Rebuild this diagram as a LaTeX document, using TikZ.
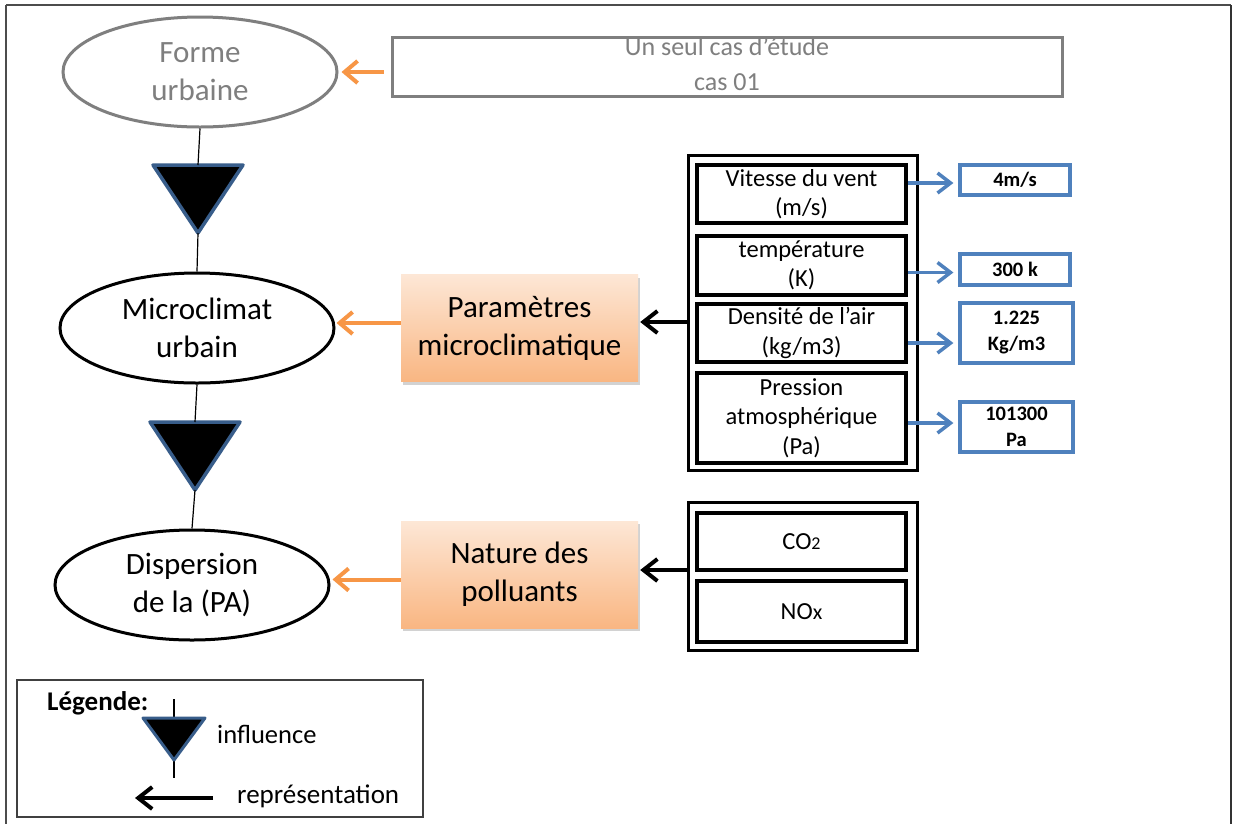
\documentclass[tikz,border=0pt]{standalone}
\usepackage{fontspec}
\setmainfont{Carlito}
\usetikzlibrary{shapes.geometric,arrows.meta,shadows,calc}

\definecolor{offorange}{HTML}{F79646}
\definecolor{offblue}{HTML}{4F81BD}
\definecolor{tridark}{HTML}{385D8A}
\definecolor{softgray}{HTML}{7F7F7F}
\definecolor{peachtop}{HTML}{FDE7D6}
\definecolor{peachbot}{HTML}{F9B682}

\tikzset{
  bigtxt/.style={font=\fontsize{31}{38}\selectfont, align=center},
  midtxt/.style={font=\fontsize{24.5}{29.5}\selectfont, align=center},
  valtxt/.style={font=\bfseries\fontsize{20.5}{26}\selectfont, align=center},
  oval/.style={ellipse, draw=black, line width=3pt, minimum width=274pt,
    minimum height=110pt, inner sep=0pt, bigtxt},
  peachbox/.style={rectangle, top color=peachtop, bottom color=peachbot,
    draw=none, minimum width=237pt, minimum height=107pt, inner sep=0pt, bigtxt,
    drop shadow={shadow xshift=2pt, shadow yshift=-3pt, opacity=0.35, fill=gray}},
  itembox/.style={rectangle, draw=black, line width=4pt, minimum width=209pt,
    inner sep=0pt, midtxt},
  groupbox/.style={rectangle, draw=black, line width=3pt, inner sep=0pt},
  valbox/.style={rectangle, draw=offblue, line width=3.2pt, inner sep=0pt, valtxt},
  orangearrow/.style={draw=offorange, line width=4pt,
    -{Straight Barb[length=13pt,width=22pt,line width=4pt]}},
  blackarrow/.style={draw=black, line width=4pt,
    -{Straight Barb[length=14pt,width=22pt,line width=4pt]}},
  bluearrow/.style={draw=offblue, line width=3.5pt,
    -{Straight Barb[length=13pt,width=20pt,line width=3.5pt]}},
  influence/.style={fill=black, draw=tridark, line width=3.5pt, line join=round},
  stem/.style={draw=black, line width=1.2pt},
}

\begin{document}
\begin{tikzpicture}[x=1pt,y=-1pt]
\useasboundingbox (0,0) rectangle (1235,823);
\fill[white] (0,0) rectangle (1235,823);

% page frame
\draw[draw=black!70, line width=2pt] (6,5) -- (1231,5);
\draw[draw=black!70, line width=2pt] (6,5) -- (6,840);
\draw[draw=black!80, line width=2pt] (1231,5) -- (1231,840);

% main chain of ellipses
\node[oval, draw=softgray, text=softgray] (forme) at (200,72) {Forme\\urbaine};
\node[oval] (micro) at (197,328) {Microclimat\\urbain};
\node[oval] (disp) at (192,585) {Dispersion\\de la (PA)};

% single case box
\node[rectangle, draw=softgray, line width=3pt, minimum width=670pt,
  minimum height=59pt, inner sep=0pt] (cas) at (727,66.5) {};
\node[text=softgray, inner sep=0pt, font=\fontsize{26}{35}\selectfont,
  align=center] (castxt) at (727,64) {Un seul cas d’étude\\cas 01};
\draw[orangearrow, shorten >=3pt] ([xshift=-7pt]cas.west |- forme.east) -- (forme.east);

% influence triangles
\coordinate (t1top) at (198,165);
\coordinate (t1tip) at (198,233);
\draw[influence] (153,165) -- (243,165) -- (t1tip) -- cycle;
\draw[stem] (forme.south) -- (t1top);
\draw[stem] (t1tip) -- (micro.north);

\coordinate (t2top) at (195,422);
\coordinate (t2tip) at (195,490);
\draw[influence] (150,422) -- (240,422) -- (t2tip) -- cycle;
\draw[stem] (micro.south) -- (t2top);
\draw[stem] (t2tip) -- (disp.north);

% peach boxes
\node[peachbox] (param) at (519.5,328) {Paramètres\\microclimatique};
\node[peachbox] (nature) at (519.5,574.5) {Nature des\\polluants};

\draw[orangearrow, shorten >=1pt] ([yshift=5pt]param.west) -- ([yshift=5pt]micro.east);
\draw[orangearrow, shorten >=2pt] ([yshift=-5pt]nature.west) -- ([yshift=-5pt]nature.west -| disp.east);

% microclimatic parameters
\node[groupbox, minimum width=229pt, minimum height=315pt] (grp1) at (802.5,312.5) {};
\node[itembox, minimum height=58pt] (vent) at (801.5,194) {Vitesse du vent\\(m/s)};
\node[itembox, minimum height=59pt] (temp) at (801.5,265.5) {température\\(K)};
\node[itembox, minimum height=58pt] (dens) at (801.5,333) {Densité de l’air\\(kg/m3)};
\node[itembox, minimum height=90pt] (pres) at (801.5,418) {Pression\\atmosphérique\\(Pa)};

\node[valbox, minimum width=110pt, minimum height=30pt] (v1) at (1015,180) {4m/s};
\node[valbox, minimum width=110pt, minimum height=31pt] (v2) at (1015,269.5) {300 k};
\node[valbox, minimum width=113pt, minimum height=60pt] (v3) at (1016.5,333) {1.225\\Kg/m3};
\node[valbox, minimum width=113pt, minimum height=50pt] (v4) at (1016.5,427) {101300\\Pa};

\draw[bluearrow, shorten >=5pt] ([yshift=-3pt]vent.east |- v1.west) -- ([yshift=-3pt]v1.west);
\draw[bluearrow, shorten >=5pt] ([yshift=-3pt]temp.east |- v2.west) -- ([yshift=-3pt]v2.west);
\draw[bluearrow, shorten >=5pt] ([yshift=-10pt]dens.east |- v3.west) -- ([yshift=-10pt]v3.west);
\draw[bluearrow, shorten >=5pt] ([yshift=4pt]pres.east |- v4.west) -- ([yshift=4pt]v4.west);

\draw[blackarrow, shorten >=2pt] ([yshift=6pt]param.east -| grp1.west) -- ([yshift=6pt]param.east);

% pollutants
\node[groupbox, minimum width=229pt, minimum height=148pt] (grp2) at (802.5,576) {};
\node[itembox, minimum height=57pt] (co2) at (801.5,541.5) {CO{\fontsize{18}{20}\selectfont 2}};
\node[itembox, minimum height=61pt] (nox) at (801.5,611.5) {NO{\fontsize{22}{24}\selectfont x}};

\draw[blackarrow, shorten >=2pt] ([yshift=4.5pt]nature.east -| grp2.west) -- ([yshift=4.5pt]nature.east);

% legend
\node[rectangle, draw=black!75, line width=1.5pt, minimum width=406pt,
  minimum height=137pt, inner sep=0pt] (leg) at (220,748.5) {};
\node[anchor=base west, inner sep=0pt, font=\bfseries\fontsize{27}{30}\selectfont]
  (legt) at (47,710) {Légende:};
\coordinate (lgtop) at (174,699);
\coordinate (lgbot) at (174,778);
\draw[stem] (lgtop) -- (lgbot);
\draw[influence, line width=3pt] (143,718) -- (205,718) -- (174,760) -- cycle;
\node[anchor=west, inner sep=0pt, font=\fontsize{26.5}{30}\selectfont] (infl) at (217,734) {influence};
\coordinate (lgarrow) at (213,798);
\coordinate (lgtip) at (135,798);
\draw[blackarrow] (lgarrow) -- (lgtip);
\node[anchor=west, inner sep=0pt, font=\fontsize{27}{30}\selectfont] (repr) at (237,796) {représentation};
\end{tikzpicture}
\end{document}
